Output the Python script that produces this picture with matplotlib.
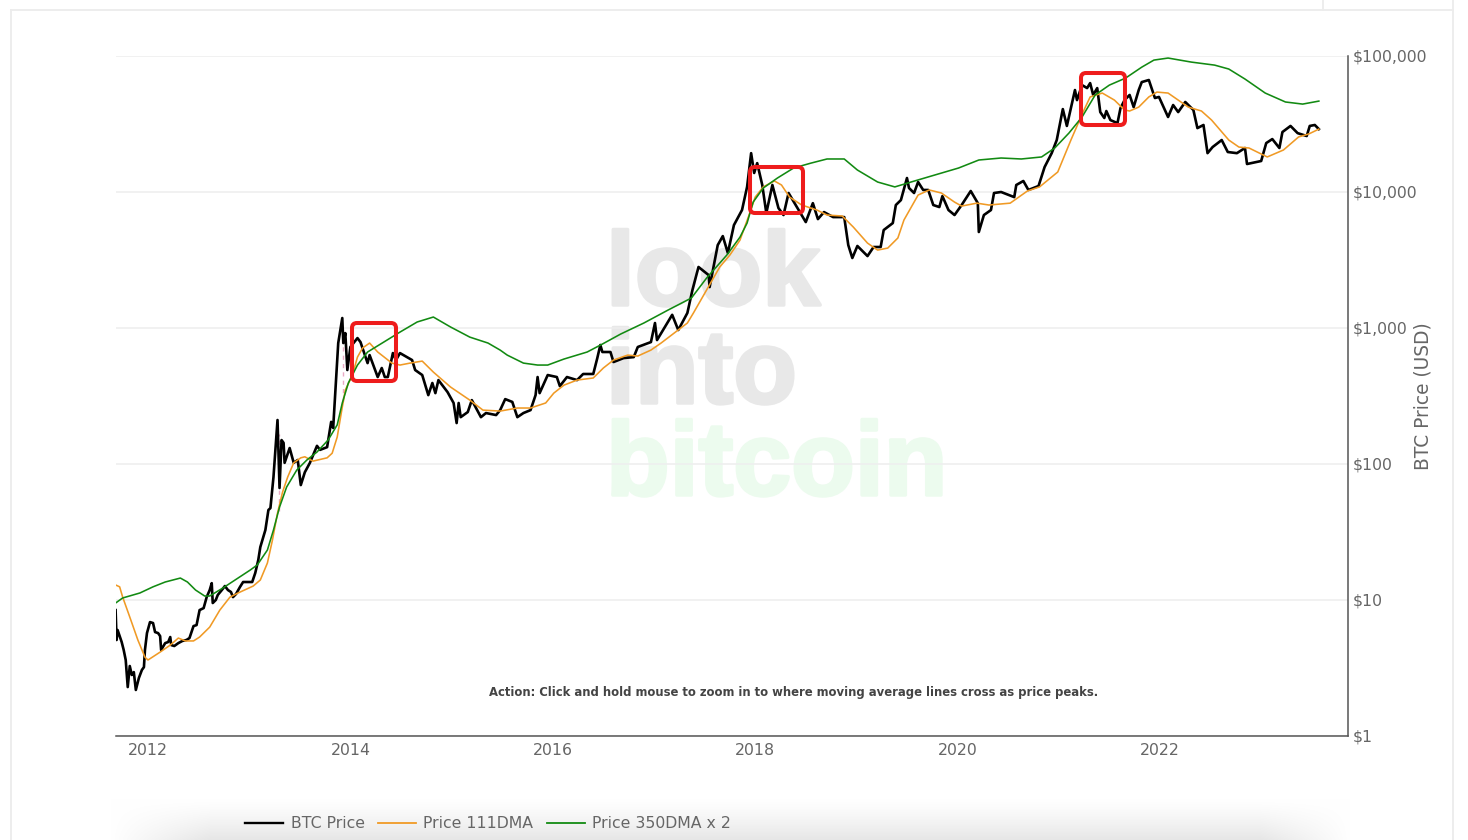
import matplotlib
matplotlib.use("Agg")
import matplotlib.pyplot as plt
import matplotlib.patheffects as pe
import numpy as np
from matplotlib.patches import FancyBboxPatch
from matplotlib.lines import Line2D
from matplotlib.ticker import FixedLocator, NullLocator

# BTC price (decimal year, USD)
btc_years = [
    2011.68, 2011.69, 2011.70, 2011.72, 2011.74, 2011.76, 2011.78, 2011.80, 2011.82, 2011.84,
    2011.86, 2011.88, 2011.91, 2011.94, 2011.96, 2011.97, 2011.99, 2012.02, 2012.05, 2012.07,
    2012.10, 2012.12, 2012.13, 2012.17, 2012.20, 2012.22, 2012.23, 2012.26, 2012.30, 2012.34,
    2012.38, 2012.41, 2012.45, 2012.48, 2012.51, 2012.55, 2012.58, 2012.61, 2012.63, 2012.64,
    2012.67, 2012.69, 2012.73, 2012.76, 2012.79, 2012.82, 2012.84, 2012.87, 2012.91, 2012.94,
    2012.99, 2013.03, 2013.06, 2013.09, 2013.11, 2013.16, 2013.19, 2013.21, 2013.24, 2013.28,
    2013.30, 2013.32, 2013.34, 2013.35, 2013.40, 2013.44, 2013.48, 2013.51, 2013.55, 2013.60,
    2013.67, 2013.70, 2013.77, 2013.81, 2013.83, 2013.88, 2013.92, 2013.93, 2013.95, 2013.97,
    2014.00, 2014.07, 2014.10, 2014.17, 2014.19, 2014.27, 2014.31, 2014.34, 2014.37, 2014.42,
    2014.45, 2014.49, 2014.61, 2014.64, 2014.71, 2014.77, 2014.81, 2014.84, 2014.87, 2014.96,
    2015.02, 2015.05, 2015.07, 2015.09, 2015.16, 2015.20, 2015.29, 2015.34, 2015.44, 2015.48,
    2015.53, 2015.60, 2015.65, 2015.71, 2015.78, 2015.83, 2015.85, 2015.87, 2015.95, 2016.04,
    2016.07, 2016.14, 2016.24, 2016.30, 2016.40, 2016.44, 2016.47, 2016.49, 2016.57, 2016.60,
    2016.70, 2016.80, 2016.84, 2016.97, 2017.01, 2017.03, 2017.18, 2017.24, 2017.33, 2017.38,
    2017.44, 2017.54, 2017.55, 2017.63, 2017.68, 2017.73, 2017.79, 2017.87, 2017.92, 2017.96,
    2017.99, 2018.02, 2018.07, 2018.11, 2018.17, 2018.23, 2018.28, 2018.33, 2018.43, 2018.50,
    2018.57, 2018.62, 2018.68, 2018.77, 2018.88, 2018.92, 2018.96, 2019.01, 2019.11, 2019.17,
    2019.24, 2019.27, 2019.36, 2019.39, 2019.44, 2019.50, 2019.52, 2019.57, 2019.61, 2019.66,
    2019.71, 2019.76, 2019.82, 2019.85, 2019.91, 2019.97, 2020.04, 2020.13, 2020.20, 2020.21,
    2020.26, 2020.33, 2020.36, 2020.43, 2020.56, 2020.58, 2020.65, 2020.70, 2020.80, 2020.86,
    2020.93, 2020.98, 2021.04, 2021.08, 2021.16, 2021.18, 2021.23, 2021.28, 2021.31, 2021.34,
    2021.38, 2021.41, 2021.45, 2021.47, 2021.51, 2021.58, 2021.61, 2021.65, 2021.70, 2021.74,
    2021.79, 2021.82, 2021.89, 2021.95, 2021.99, 2022.08, 2022.13, 2022.18, 2022.25, 2022.33,
    2022.37, 2022.43, 2022.47, 2022.52, 2022.61, 2022.67, 2022.76, 2022.84, 2022.86, 2023.00,
    2023.05, 2023.11, 2023.18, 2023.21, 2023.29, 2023.36, 2023.45, 2023.48, 2023.53, 2023.57,
]
btc_prices = [
    8.43, 5.08, 6.01, 5.43, 4.91, 4.29, 3.62, 2.29, 3.27, 2.81,
    2.95, 2.18, 2.67, 3.06, 3.21, 4.29, 5.71, 6.88, 6.77, 5.81,
    5.71, 5.43, 4.29, 4.82, 4.91, 5.34, 4.66, 4.59, 4.82, 5.0,
    5.08, 5.25, 6.43, 6.54, 8.43, 8.72, 10.5, 11.84, 13.3, 9.5,
    10, 10.9, 11.84, 12.67, 11.84, 11.45, 10.5, 11.07, 12.5, 13.56,
    13.56, 13.56, 15.8, 19.7, 24.5, 32.7, 45.9, 47.4, 80, 210.6,
    66.6, 150, 143, 102, 131, 102, 107, 70, 87, 102,
    136, 127, 133, 204, 184, 775, 1184, 775, 917, 491,
    725, 843, 788, 552, 632, 436, 508, 436, 436, 654,
    581, 654, 581, 491, 451, 321, 394, 332, 414, 338,
    281, 200, 281, 221, 241, 295, 221, 237, 229, 249,
    300, 286, 221, 237, 249, 321, 436, 332, 451, 436,
    374, 436, 414, 459, 459, 601, 750, 666, 666, 562,
    601, 611, 725, 788, 1088, 815, 1250, 966, 1290, 1903,
    2810, 2450, 2000, 4070, 4740, 3560, 5710, 7370, 10900, 19300,
    13800, 16300, 11260, 7000, 11260, 7620, 6770, 9830, 7370, 6010,
    8280, 6320, 7120, 6540, 6540, 4070, 3270, 4010, 3380, 3940,
    3940, 5250, 5910, 8020, 8720, 12670, 10700, 9830, 11840, 10350,
    10350, 8020, 7750, 9330, 7370, 6770, 8020, 10170, 8280, 5080,
    6770, 7370, 9830, 10000, 9170, 11260, 12050, 10350, 11070, 15260,
    19300, 24100, 40700, 30600, 56200, 47400, 61100, 58100, 63200, 51700,
    58100, 38700, 35000, 39400, 33800, 32100, 41400, 47400, 51700, 42100,
    56200, 64300, 66600, 49100, 50000, 35600, 43600, 38700, 45900, 40100,
    29500, 31100, 19300, 21400, 24100, 19680, 19300, 21060, 16060, 16900,
    22900, 24500, 21060, 27600, 30600, 27100, 25800, 30600, 31100, 29000,
]

# 111 day moving average
dma111_years = [
    2011.68, 2011.72, 2011.75, 2011.82, 2011.90, 2011.97, 2012.00, 2012.12, 2012.22, 2012.30,
    2012.37, 2012.45, 2012.51, 2012.61, 2012.71, 2012.81, 2012.89, 2013.04, 2013.11, 2013.18,
    2013.23, 2013.28, 2013.33, 2013.38, 2013.44, 2013.51, 2013.55, 2013.63, 2013.77, 2013.82,
    2013.87, 2013.92, 2013.95, 2014.02, 2014.07, 2014.12, 2014.19, 2014.27, 2014.41, 2014.49,
    2014.59, 2014.71, 2014.82, 2014.99, 2015.18, 2015.31, 2015.48, 2015.65, 2015.78, 2015.93,
    2016.01, 2016.11, 2016.24, 2016.40, 2016.50, 2016.60, 2016.74, 2016.84, 2016.97, 2017.07,
    2017.33, 2017.39, 2017.52, 2017.65, 2017.75, 2017.85, 2017.95, 2018.00, 2018.08, 2018.19,
    2018.26, 2018.34, 2018.46, 2018.61, 2018.71, 2018.86, 2018.97, 2019.11, 2019.21, 2019.31,
    2019.41, 2019.47, 2019.61, 2019.72, 2019.84, 2019.97, 2020.04, 2020.19, 2020.31, 2020.52,
    2020.69, 2020.81, 2020.99, 2021.12, 2021.24, 2021.31, 2021.43, 2021.55, 2021.65, 2021.70,
    2021.79, 2021.89, 2021.97, 2022.08, 2022.28, 2022.41, 2022.51, 2022.68, 2022.78, 2022.88,
    2023.06, 2023.22, 2023.37, 2023.47, 2023.57,
]
dma111_prices = [
    12.9, 12.5, 10.5, 7.5, 5.08, 3.8, 3.62, 4.14, 4.66, 5.25,
    5.0, 5.0, 5.34, 6.32, 8.43, 10.5, 11.26, 12.67, 14.03, 18.7,
    27.6, 43.6, 62.2, 80, 102, 111, 113, 105, 111, 120,
    158, 262, 350, 451, 611, 712, 775, 666, 552, 534,
    552, 571, 474, 368, 295, 249, 245, 258, 258, 281,
    332, 380, 414, 429, 508, 581, 632, 622, 688, 775,
    1088, 1290, 1903, 2810, 3440, 4430, 7120, 9170, 10900, 12050,
    11260, 9170, 8020, 7370, 6770, 6660, 5520, 4210, 3740, 3870,
    4590, 6220, 9500, 10350, 9830, 8430, 7880, 8280, 8020, 8280,
    10170, 10900, 14030, 24100, 38700, 50000, 53400, 47400, 40100, 39400,
    42100, 50000, 54300, 53400, 42100, 39400, 33800, 24100, 21400, 21060,
    18100, 20360, 25400, 26700, 29000,
]

# 350 day moving average x 2
dma350_years = [
    2011.68, 2011.75, 2011.92, 2012.05, 2012.17, 2012.32, 2012.39, 2012.47, 2012.56, 2012.61,
    2012.74, 2013.01, 2013.08, 2013.18, 2013.24, 2013.30, 2013.37, 2013.47, 2013.57, 2013.67,
    2013.78, 2013.87, 2013.92, 2013.98, 2014.07, 2014.17, 2014.33, 2014.49, 2014.66, 2014.82,
    2014.99, 2015.18, 2015.36, 2015.48, 2015.55, 2015.71, 2015.85, 2015.95, 2016.11, 2016.34,
    2016.49, 2016.67, 2016.90, 2017.14, 2017.37, 2017.52, 2017.72, 2017.85, 2017.92, 2017.98,
    2018.08, 2018.22, 2018.38, 2018.55, 2018.71, 2018.88, 2019.01, 2019.21, 2019.38, 2019.54,
    2019.77, 2020.01, 2020.21, 2020.43, 2020.63, 2020.83, 2020.96, 2021.10, 2021.23, 2021.36,
    2021.50, 2021.66, 2021.82, 2021.94, 2022.08, 2022.31, 2022.54, 2022.68, 2022.84, 2023.04,
    2023.24, 2023.41, 2023.57,
]
dma350_prices = [
    9.5, 10.35, 11.26, 12.5, 13.56, 14.5, 13.56, 11.84, 10.7, 10.7,
    12.25, 16.6, 18.1, 23.3, 32.7, 48.2, 67.7, 90.2, 107, 122.5,
    150, 194, 281, 394, 534, 666, 788, 933, 1107, 1204,
    1017, 857, 775, 688, 632, 552, 534, 534, 591, 666,
    762, 902, 1088, 1356, 1662, 2330, 3440, 4660, 5910, 8430,
    10700, 12670, 15010, 16300, 17490, 17490, 14510, 11840, 10900, 11840,
    13300, 15010, 17190, 17780, 17490, 18100, 21060, 27100, 35600, 51700,
    61100, 68800, 82800, 93300, 96600, 90200, 85700, 80200, 67700, 53400,
    45900, 44300, 46600,
]

# faint dashed markers where the averages cross
cross_years = [2013.29, 2013.93]
cross_low = [45, 290]
cross_high = [165, 1000]

year_ticks = [2012, 2014, 2016, 2018, 2020, 2022]
price_ticks = [1, 10, 100, 1000, 10000, 100000]
price_labels = ["$1", "$10", "$100", "$1,000", "$10,000", "$100,000"]

# red boxes, pixels from the top left of the picture
box_pixels = [(352, 323, 396, 381), (750, 167, 803, 213), (1081, 73, 1125, 125)]

W, H = 1468, 840
GREY = "#666666"

fig = plt.figure(figsize=(W / 100, H / 100), dpi=100, facecolor="white")

# soft shadow along the bottom edge
bg = fig.add_axes([0, 0, 1, 1], zorder=0)
bg.axis("off")
xx, yy = np.meshgrid(np.arange(W), np.arange(798, H))
fade_y = np.clip((yy - 798) / 42.0, 0, 1) ** 1.3
fade_x = np.clip((xx - 110) / 100.0, 0, 1) * np.clip((1350 - xx) / 90.0, 0, 1)
shade = 1 - 0.10 * fade_y * fade_x
shadow = np.dstack([shade, shade, shade])
bg.imshow(shadow, extent=(0, W, H, 798), aspect="auto", interpolation="nearest", vmin=0, vmax=1)
bg.set_xlim(0, W)
bg.set_ylim(H, 0)

# page frame
frame_color = "#ececec"
bg.plot([11, 11], [10, H], color=frame_color, lw=1.3)
bg.plot([1453, 1453], [0, H], color=frame_color, lw=1.3)
bg.plot([11, 1453], [10, 10], color=frame_color, lw=1.3)
bg.plot([1323, 1323], [0, 10], color=frame_color, lw=1.3)

# watermark
logo = {"family": "Liberation Sans", "weight": "bold", "fontsize": 75, "va": "baseline"}
stroke_grey = [pe.withStroke(linewidth=2.5, foreground="#e8e8e8")]
stroke_green = [pe.withStroke(linewidth=2.5, foreground="#ecfbee")]
bg.text(606, 305, "look", color="#e8e8e8", path_effects=stroke_grey, **logo)
bg.text(606, 403, "into", color="#e8e8e8", path_effects=stroke_grey, **logo)
bg.text(606, 495, "bitcoin", color="#ecfbee", path_effects=stroke_green, **logo)

ax = fig.add_axes([116 / W, 1 - 736 / H, (1348 - 116) / W, (736 - 56) / H], zorder=1)
ax.patch.set_alpha(0)
ax.set_yscale("log")
ax.set_xlim(2011.684, 2023.858)
ax.set_ylim(1, 100000)

ax.grid(True, axis="y", color="#eeeeee", lw=1.1)
ax.set_axisbelow(True)

ax.vlines(cross_years, cross_low, cross_high, color="#e9a9c4", lw=1, linestyles=(0, (3, 3)))
ax.plot(btc_years, btc_prices, color="black", lw=1.9, solid_joinstyle="round", zorder=3)
ax.plot(dma111_years, dma111_prices, color="#f09a25", lw=1.15, zorder=4)
ax.plot(dma350_years, dma350_prices, color="#128a12", lw=1.15, zorder=4)

for s in ["top", "left"]:
    ax.spines[s].set_visible(False)
for s in ["bottom", "right"]:
    ax.spines[s].set_color("#555555")
    ax.spines[s].set_linewidth(1.1)

ax.yaxis.tick_right()
ax.yaxis.set_label_position("right")
ax.xaxis.set_major_locator(FixedLocator(year_ticks))
ax.set_xticklabels([str(y) for y in year_ticks])
ax.yaxis.set_major_locator(FixedLocator(price_ticks))
ax.yaxis.set_minor_locator(NullLocator())
ax.set_yticklabels(price_labels)
ax.tick_params(axis="both", length=0, labelsize=11.3, labelcolor=GREY)
ax.tick_params(axis="x", pad=5)
ax.tick_params(axis="y", pad=3.5)
ax.set_ylabel("BTC Price (USD)", fontsize=13.4, color=GREY)
ax.yaxis.set_label_coords(1.0532, 0.5)

ax.text(0.5502, 0.0647, "Action: Click and hold mouse to zoom in to where moving average lines cross as price peaks.",
        transform=ax.transAxes, ha="center", va="center", fontsize=8.35, fontweight="bold", color="#444444")

# red boxes go on the full page axes, above the chart
top = fig.add_axes([0, 0, 1, 1], zorder=2)
top.set_xlim(0, W)
top.set_ylim(H, 0)
top.axis("off")
for x0, y0, x1, y1 in box_pixels:
    top.add_patch(FancyBboxPatch((x0 + 5, y0 + 5), x1 - x0 - 10, y1 - y0 - 10,
                                 boxstyle="round,pad=5,rounding_size=5",
                                 fill=False, edgecolor="#ee1c1c", lw=2.9))

# legend
handles = [
    Line2D([], [], color="black", lw=1.7),
    Line2D([], [], color="#f09a25", lw=1.3),
    Line2D([], [], color="#128a12", lw=1.3),
]
leg = top.legend(handles, ["BTC Price", "Price 111DMA", "Price 350DMA x 2"], ncol=3, frameon=False,
                 loc="center left", bbox_to_anchor=(245 / W, 1 - 824 / H), fontsize=11.3, labelcolor=GREY,
                 handlelength=2.45, handletextpad=0.45, columnspacing=0.85, borderpad=0, borderaxespad=0)

fig.savefig("out.png", dpi=100)
